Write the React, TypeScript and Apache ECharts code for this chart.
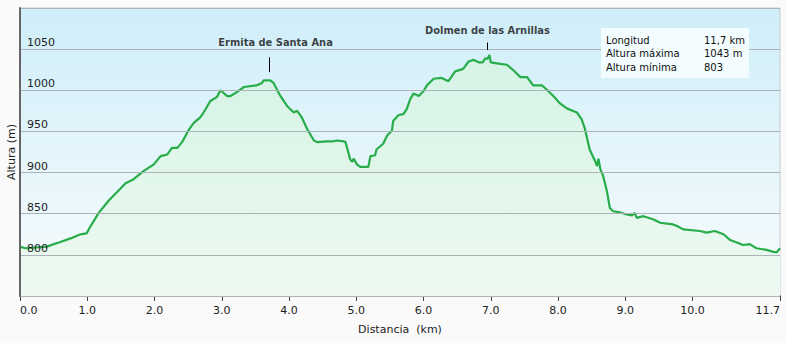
import React, { useEffect, useRef } from "react";
import * as echarts from "echarts";

// Distance along the axis (km, axis scale) and altitude (m)
const distances = [
  0.0, 0.08, 0.4, 0.5, 0.58, 0.75, 0.9, 0.99, 1.05, 1.17, 1.32, 1.44, 1.57, 1.69, 1.84, 1.99,
  2.09, 2.19, 2.26, 2.34, 2.41, 2.51, 2.58, 2.68, 2.73, 2.83, 2.93, 2.98, 3.08, 3.13, 3.23, 3.33,
  3.52, 3.6, 3.62, 3.72, 3.77, 3.85, 3.97, 4.07, 4.12, 4.19, 4.27, 4.37, 4.42, 4.56, 4.66, 4.71,
  4.81, 4.84, 4.89, 4.91, 4.94, 4.96, 5.01, 5.06, 5.18, 5.21, 5.28, 5.3, 5.4, 5.46, 5.53, 5.55,
  5.63, 5.7, 5.75, 5.8, 5.85, 5.93, 6.0, 6.05, 6.15, 6.27, 6.37, 6.47, 6.59, 6.67, 6.74, 6.82,
  6.88, 6.92, 6.95, 6.98, 7.0, 7.14, 7.24, 7.34, 7.44, 7.54, 7.63, 7.76, 7.83, 7.93, 8.03, 8.13,
  8.28, 8.35, 8.4, 8.47, 8.55, 8.58, 8.6, 8.63, 8.67, 8.73, 8.77, 8.82, 8.9, 9.02, 9.1, 9.14,
  9.17, 9.27, 9.42, 9.52, 9.62, 9.71, 9.77, 9.86, 10.11, 10.21, 10.33, 10.46, 10.56, 10.66, 10.75,
  10.85, 10.95, 11.1, 11.19, 11.25, 11.3,
];
const altitudes = [
  810, 808, 810, 813, 815, 820, 825, 826, 835, 851, 866, 876, 887, 892, 902, 910,
  920, 922, 930, 930, 937, 952, 960, 967, 973, 987, 992, 1000, 993, 993, 998, 1004,
  1006, 1009, 1012, 1012, 1009, 996, 981, 973, 975, 967, 953, 939, 937, 938, 938, 939,
  938, 937, 922, 916, 913, 917, 910, 907, 907, 920, 921, 928, 935, 945, 951, 963,
  970, 971, 977, 989, 996, 993, 999, 1006, 1014, 1015, 1011, 1023, 1026, 1035, 1037, 1034,
  1034, 1039, 1038, 1043, 1034, 1032, 1031, 1024, 1016, 1016, 1006, 1006, 1001, 993, 984, 978,
  973, 965, 953, 928, 914, 908, 917, 904, 896, 876, 857, 853, 852, 849, 848, 851,
  845, 847, 843, 839, 838, 837, 835, 831, 829, 827, 829, 825, 818, 815, 812,
  813, 808, 806, 804, 803, 808,
];

const xTickValues = [0, 1, 2, 3, 4, 5, 6, 7, 8, 9, 10, 11.3];
const xTickLabels = ["0.0", "1.0", "2.0", "3.0", "4.0", "5.0", "6.0", "7.0", "8.0", "9.0", "10.0", "11.7"];

const annotationNames = ["Ermita de Santa Ana", "Dolmen de las Arnillas"];
const annotationX = [3.7, 6.95];
const annotationLabelX = [3.8, 6.95];
const annotationTickLow = [1022, 1049];
const annotationTickHigh = [1040, 1058];
const annotationLabelY = [1058, 1073];

const infoLabels = ["Longitud", "Altura máxima", "Altura mínima"];
const infoValues = ["11,7 km", "1043 m", "803"];

export default function App() {
  const ref = useRef<HTMLDivElement>(null);
  useEffect(() => {
    document.body.style.margin = "0";
    const chart = echarts.init(ref.current!, null, { renderer: "svg" });
    const font = "DejaVu Sans";
    const lineData = distances.map((d, i) => [d, altitudes[i]]);
    chart.setOption({
      animation: false,
      backgroundColor: "#fafafa",
      textStyle: { fontFamily: font },
      grid: {
        left: 20,
        right: 7,
        top: 8,
        bottom: 47,
        outerBoundsMode: "none",
        containLabel: false,
        show: true,
        borderColor: "#c4ccd0",
        borderWidth: 1,
        backgroundColor: new echarts.graphic.LinearGradient(0, 0, 0, 1, [
          { offset: 0, color: "#cfeef9" },
          { offset: 1, color: "#f8fcfd" },
        ]),
      },
      xAxis: {
        type: "value",
        min: 0,
        max: 11.3,
        name: "Distancia  (km)",
        nameLocation: "middle",
        nameGap: 28,
        nameMoveOverlap: false,
        nameTextStyle: { fontFamily: font, fontSize: 11, color: "#222" },
        axisLine: { show: true, lineStyle: { color: "#666", width: 2 } },
        axisTick: {
          show: true,
          customValues: xTickValues,
          length: 5,
          lineStyle: { color: "#444", width: 1 },
        },
        axisLabel: {
          customValues: xTickValues,
          fontFamily: font,
          fontSize: 11,
          color: "#222",
          margin: 9,
          alignMinLabel: "left",
          alignMaxLabel: "right",
          formatter: (v: number) => {
            const i = xTickValues.findIndex((t) => Math.abs(t - v) < 1e-6);
            return i >= 0 ? xTickLabels[i] : "";
          },
        },
        splitLine: { show: false },
      },
      yAxis: {
        type: "value",
        min: 750,
        max: 1100,
        interval: 50,
        z: 4,
        name: "Altura (m)",
        nameLocation: "middle",
        nameGap: 3,
        nameRotate: 90,
        nameMoveOverlap: false,
        nameTextStyle: { fontFamily: font, fontSize: 11, color: "#222" },
        axisLine: { show: true, lineStyle: { color: "#666", width: 2 } },
        axisTick: { show: false },
        axisLabel: {
          inside: true,
          margin: 7,
          fontFamily: font,
          fontSize: 11,
          color: "#222",
          verticalAlign: "bottom",
          padding: [0, 0, 1, 0],
          formatter: (v: number) => (v === 750 || v === 1100 ? "" : String(v)),
        },
        splitLine: { show: true, lineStyle: { color: "#aab3b8", width: 1 } },
      },
      series: [
        {
          type: "line",
          data: lineData,
          symbol: "none",
          lineStyle: { color: "#27ad4a", width: 2.2 },
          areaStyle: {
            color: new echarts.graphic.LinearGradient(0, 0, 0, 1, [
              { offset: 0, color: "#d5f3e6" },
              { offset: 1, color: "#eefaf1" },
            ]),
            opacity: 1,
          },
          z: 3,
          markLine: {
            silent: true,
            symbol: ["none", "none"],
            label: { show: false },
            lineStyle: { color: "#000", width: 1, type: "solid" },
            data: annotationX.map((x, i) => [
              { coord: [x, annotationTickLow[i]] },
              { coord: [x, annotationTickHigh[i]] },
            ]),
          },
        },
        {
          type: "scatter",
          symbolSize: 1,
          itemStyle: { color: "transparent" },
          silent: true,
          z: 5,
          data: annotationLabelX.map((x, i) => [x, annotationLabelY[i]]),
          label: {
            show: true,
            position: "inside",
            fontFamily: "DejaVu Sans Condensed, DejaVu Sans",
            fontWeight: "bold",
            fontSize: 11,
            color: "#111",
            formatter: (p: any) => annotationNames[p.dataIndex],
          },
        },
      ],
      graphic: [
        {
          type: "rect",
          shape: { x: 601, y: 28, width: 148, height: 50 },
          style: { fill: "#f3fcfe" },
          z: 10,
        },
        ...infoLabels.map((t, i) => ({
          type: "text",
          x: 606,
          y: 40 + i * 13.5,
          z: 11,
          style: { text: t, fontFamily: font, fontSize: 10, fill: "#111", verticalAlign: "middle" },
        })),
        ...infoValues.map((t, i) => ({
          type: "text",
          x: 704,
          y: 40 + i * 13.5,
          z: 11,
          style: { text: t, fontFamily: font, fontSize: 10, fill: "#111", verticalAlign: "middle" },
        })),
      ],
    });
    return () => chart.dispose();
  }, []);
  return (
    <div
      ref={ref}
      style={{ position: "fixed", left: 0, top: 0, width: 787, height: 343 }}
    />
  );
}
